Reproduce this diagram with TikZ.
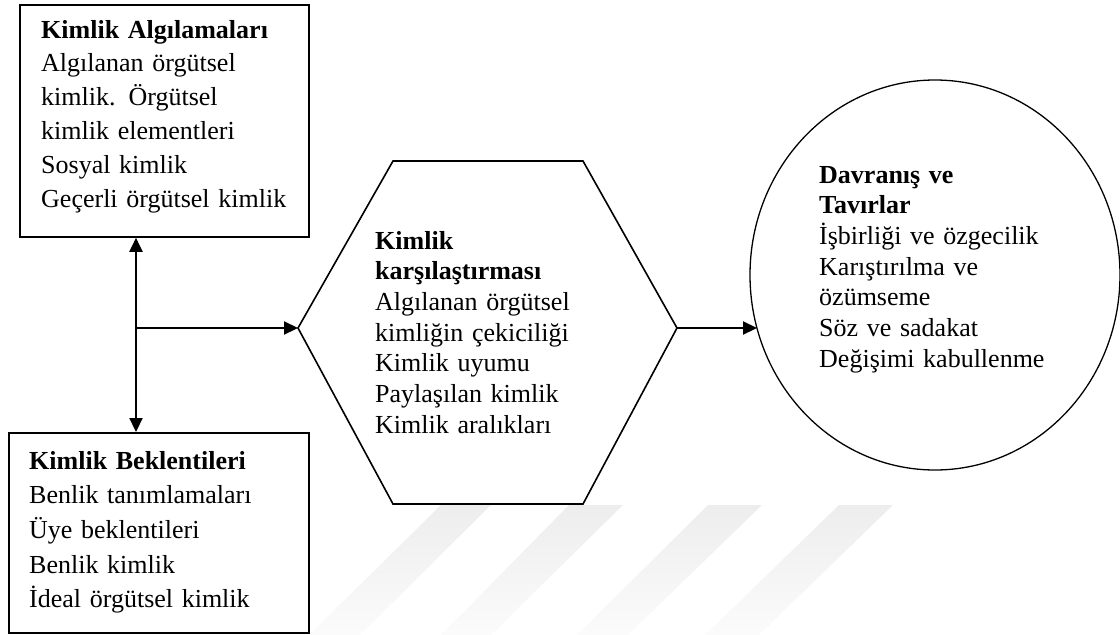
\documentclass[tikz,border=0pt]{standalone}
\usepackage{fontspec}
\setmainfont{Liberation Serif}
\usetikzlibrary{arrows.meta,shapes.geometric}
\begin{document}
\begin{tikzpicture}[x=1pt,y=-1pt,
  box/.style={draw, line width=1.8pt, inner sep=0pt, anchor=north west},
  txt/.style={anchor=base west, inner sep=0pt, align=left, text width=320pt},
  conn/.style={line width=2.2pt, -{Triangle[length=14pt,width=13pt]}},
  mark stripe/.style={top color=black!7, bottom color=black!1.5, draw=none}
  ]
\useasboundingbox (0,0) rectangle (1120,635);
% watermark stripes
\shade[mark stripe] (441,505) -- (491,505) -- (360,635) -- (309,635) -- cycle;
\shade[mark stripe] (569,505) -- (623,505) -- (491,635) -- (441,635) -- cycle;
\shade[mark stripe] (708,505) -- (762,505) -- (628,635) -- (577,635) -- cycle;
\shade[mark stripe] (839,505) -- (893,505) -- (759,635) -- (705,635) -- cycle;

% boxes
\node[box, minimum width=289pt, minimum height=232pt] (top) at (19,4) {};
\node[box, minimum width=300pt, minimum height=200pt] (bot) at (8,432) {};

% hexagon
\coordinate (hW) at (298,328);
\coordinate (hE) at (677,328);
\coordinate (hNW) at (393,161);
\coordinate (hNE) at (583,161);
\coordinate (hSE) at (583,504);
\coordinate (hSW) at (393,504);
\draw[line width=1.6pt, line join=miter] (hW) -- (hNW) -- (hNE) -- (hE) -- (hSE) -- (hSW) -- cycle;

% circle
\node[draw, ellipse, line width=1.3pt, inner sep=0pt, minimum width=370pt, minimum height=390pt] (circ) at (935,275) {};
\coordinate (cA) at (757,328);

% connectors
\coordinate (j) at (136,328);
\draw[line width=2.2pt, {Triangle[length=14pt,width=13pt]}-{Triangle[length=14pt,width=13pt]}] (top.south -| j) -- (bot.north -| j);
\draw[conn] (j) -- (hW);
\draw[conn] (hE) -- (cA);

% texts
\node[txt, font=\fontsize{26}{33.8}\selectfont] (t1) at (41,38)
  {\textbf{Kimlik Algılamaları}\\Algılanan örgütsel\\kimlik. Örgütsel\\kimlik elementleri\\Sosyal kimlik\\Geçerli örgütsel kimlik};
\node[txt, font=\fontsize{26}{34.7}\selectfont] (t2) at (29,469)
  {\textbf{Kimlik Beklentileri}\\Benlik tanımlamaları\\Üye beklentileri\\Benlik kimlik\\İdeal örgütsel kimlik};
\node[txt, font=\fontsize{26}{30.7}\selectfont] (t3) at (375,249)
  {\textbf{Kimlik}\\\textbf{karşılaştırması}\\Algılanan örgütsel\\kimliğin çekiciliği\\Kimlik uyumu\\Paylaşılan kimlik\\Kimlik aralıkları};
\node[txt, font=\fontsize{26}{30.7}\selectfont] (t4) at (819,183)
  {\textbf{Davranış ve}\\\textbf{Tavırlar}\\İşbirliği ve özgecilik\\Karıştırılma ve\\özümseme\\Söz ve sadakat\\Değişimi kabullenme};
\end{tikzpicture}
\end{document}
